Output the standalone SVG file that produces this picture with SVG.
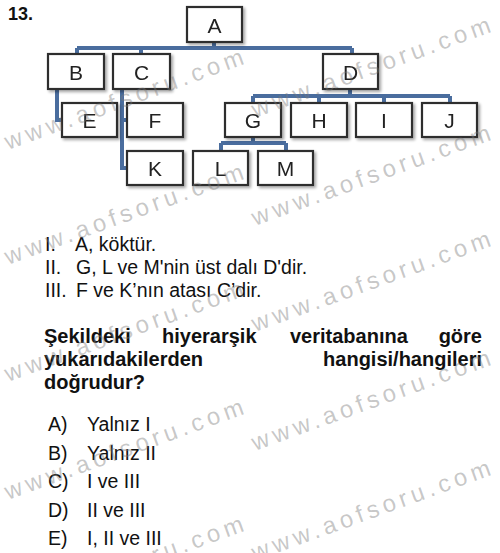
<svg xmlns="http://www.w3.org/2000/svg" width="500" height="553" viewBox="0 0 500 553">
<style>
.box rect{fill:#fff;stroke:#2e2e2e;stroke-width:2.2}
.box text{font-family:"Liberation Sans Narrow","Liberation Sans",Arial,sans-serif;font-size:21px;fill:#222;text-anchor:middle}
.conn path{fill:none;stroke:#4a6d9e;stroke-width:4;stroke-linejoin:miter}
.t{font-family:"Liberation Sans",Arial,sans-serif;font-size:19.5px;fill:#111}
.b{font-family:"Liberation Sans",Arial,sans-serif;font-size:20px;font-weight:bold;fill:#111}
.wm{font-family:"Liberation Sans",Arial,sans-serif;font-size:24px;letter-spacing:4.5px;fill:#7a7a7a;fill-opacity:0.42}
</style>
<defs>
<filter id="sh" x="-20%" y="-20%" width="150%" height="160%">
<feGaussianBlur in="SourceAlpha" stdDeviation="1.5"/>
<feOffset dx="1.5" dy="2" result="o"/>
<feComponentTransfer><feFuncA type="linear" slope="0.35"/></feComponentTransfer>
<feMerge><feMergeNode/><feMergeNode in="SourceGraphic"/></feMerge>
</filter>
</defs>
<rect width="500" height="553" fill="#fff"/>
<text class="b" x="8" y="20" style="font-size:18px">13.</text>

<g id="connectors" class="conn">
<path d="M214,42 V48 M77,48 H352 M77,48 V54 M141,48 V54 M352,48 V54"/>
<path d="M57,89 V120 H62"/>
<path d="M122,89 V168 H127 M122,120 H127"/>
<path d="M350,89 V96 M253,96 H450 M253,96 V103 M319,96 V103 M384,96 V103 M450,96 V103"/>
<path d="M253,137 V143 M221,143 H286 M221,143 V151 M286,143 V151"/>
</g>

<g id="A" class="box" filter="url(#sh)"><rect x="187" y="7" width="55" height="35"/><text x="214.5" y="33">A</text></g>
<g id="B" class="box" filter="url(#sh)"><rect x="48" y="54" width="56" height="35"/><text x="76" y="80">B</text></g>
<g id="C" class="box" filter="url(#sh)"><rect x="113" y="54" width="57" height="35"/><text x="141.5" y="80">C</text></g>
<g id="D" class="box" filter="url(#sh)"><rect x="323" y="54" width="55" height="35"/><text x="350.5" y="80">D</text></g>
<g id="E" class="box" filter="url(#sh)"><rect x="62" y="103" width="55" height="34"/><text x="89.5" y="128">E</text></g>
<g id="F" class="box" filter="url(#sh)"><rect x="127" y="103" width="56" height="34"/><text x="155" y="128">F</text></g>
<g id="G" class="box" filter="url(#sh)"><rect x="225" y="103" width="56" height="34"/><text x="253" y="128">G</text></g>
<g id="H" class="box" filter="url(#sh)"><rect x="291" y="103" width="56" height="34"/><text x="319" y="128">H</text></g>
<g id="I" class="box" filter="url(#sh)"><rect x="356" y="103" width="56" height="34"/><text x="384" y="128">I</text></g>
<g id="J" class="box" filter="url(#sh)"><rect x="422" y="103" width="55" height="34"/><text x="449.5" y="128">J</text></g>
<g id="K" class="box" filter="url(#sh)"><rect x="127" y="151" width="56" height="34"/><text x="155" y="176">K</text></g>
<g id="L" class="box" filter="url(#sh)"><rect x="193" y="151" width="55" height="34"/><text x="220.5" y="176">L</text></g>
<g id="M" class="box" filter="url(#sh)"><rect x="258" y="151" width="55" height="34"/><text x="285.5" y="176">M</text></g>

<g id="statements">
<text class="t" x="45" y="251">I.</text><text class="t" x="75" y="251">A, köktür.</text>
<text class="t" x="45" y="273.5">II.</text><text class="t" x="76" y="273.5">G, L ve M'nin üst dalı D'dir.</text>
<text class="t" x="45" y="296.5">III.</text><text class="t" x="76" y="296.5">F ve K’nın atası C’dir.</text>
</g>

<g id="question">
<text class="b" x="44" y="343">Şekildeki</text>
<text class="b" x="162" y="343">hiyerarşik</text>
<text class="b" x="290" y="343">veritabanına</text>
<text class="b" x="482" y="343" text-anchor="end">göre</text>
<text class="b" x="44" y="366">yukarıdakilerden</text>
<text class="b" x="482" y="366" text-anchor="end">hangisi/hangileri</text>
<text class="b" x="44" y="389">doğrudur?</text>
</g>

<g id="options">
<text class="t" x="48" y="431">A)</text><text class="t" x="87" y="431">Yalnız I</text>
<text class="t" x="48" y="459.5">B)</text><text class="t" x="87" y="459.5">Yalnız II</text>
<text class="t" x="48" y="488">C)</text><text class="t" x="87" y="488">I ve III</text>
<text class="t" x="48" y="516.5">D)</text><text class="t" x="87" y="516.5">II ve III</text>
<text class="t" x="48" y="545">E)</text><text class="t" x="87" y="545">I, II ve III</text>
</g>

<g id="watermarks" class="wm">
<text transform="translate(8,150) rotate(-20)">www.aofsoru.com</text>
<text transform="translate(8,265) rotate(-20)">www.aofsoru.com</text>
<text transform="translate(8,382) rotate(-20)">www.aofsoru.com</text>
<text transform="translate(8,500) rotate(-20)">www.aofsoru.com</text>
<text transform="translate(8,617) rotate(-20)">www.aofsoru.com</text>
<text transform="translate(255,118) rotate(-20)">www.aofsoru.com</text>
<text transform="translate(255,226) rotate(-20)">www.aofsoru.com</text>
<text transform="translate(255,332) rotate(-20)">www.aofsoru.com</text>
<text transform="translate(255,451) rotate(-20)">www.aofsoru.com</text>
<text transform="translate(255,561) rotate(-20)">www.aofsoru.com</text>
</g>
</svg>
